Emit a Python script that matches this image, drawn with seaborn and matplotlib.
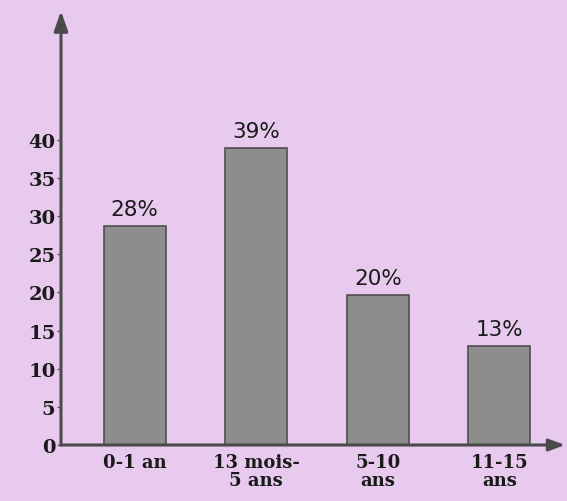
import matplotlib
matplotlib.use("Agg")
import matplotlib.pyplot as plt
import seaborn as sns
import pandas as pd

categories = ["0-1 an", "13 mois-\n5 ans", "5-10\nans", "11-15\nans"]
values = [28.7, 39.0, 19.7, 13.0]
bar_labels = ["28%", "39%", "20%", "13%"]
yticks = [0, 5, 10, 15, 20, 25, 30, 35, 40]

sns.set_theme(style="white")
bg = "#e8caee"
plt.rcParams["font.family"] = ["DejaVu Serif"]

fig = plt.figure(figsize=(5.67, 5.02), dpi=100, facecolor=bg)
ax = fig.add_axes([61/567, 56/502, 504/567, 434/502])
ax.set_facecolor(bg)

df = pd.DataFrame({"cat": categories, "val": values})
sns.barplot(data=df, x="cat", y="val", order=categories, color="#8d8d8d",
            saturation=1, edgecolor="#4f4f4f", linewidth=1.2, width=0.51, ax=ax)

ax.set_xlim(-0.607, 3.54)
ax.set_ylim(0, 56.9)
ax.set_yticks(yticks)
ax.set_yticklabels([str(t) for t in yticks], fontsize=14, fontweight="bold", color="#1a1a1a")
ax.set_xticks(range(len(categories)))
ax.set_xticklabels(categories, fontsize=13, fontweight="bold", color="#1a1a1a", linespacing=1.0)
ax.tick_params(axis="y", length=3, width=1, color="#555555", pad=1, left=True)
ax.tick_params(axis="x", length=0, pad=6)
ax.set_xlabel("")
ax.set_ylabel("")
for s in ax.spines.values():
    s.set_visible(False)

for i, (v, lab) in enumerate(zip(values, bar_labels)):
    ax.annotate(lab, (i, v), xytext=(0, 5), textcoords="offset points",
                ha="center", va="bottom", fontsize=15.5, family="DejaVu Sans",
                color="#1a1a1a")

ax.annotate("", xy=(0, 1.0), xytext=(0, 0), xycoords="axes fraction",
            arrowprops=dict(arrowstyle="-|>,head_length=1.0,head_width=0.35",
                            color="#4a4a4a", lw=2.2, shrinkA=0, shrinkB=0), clip_on=False)
ax.annotate("", xy=(1.0, 0), xytext=(0, 0), xycoords="axes fraction",
            arrowprops=dict(arrowstyle="-|>,head_length=0.8,head_width=0.3",
                            color="#4a4a4a", lw=2.2, shrinkA=0, shrinkB=0), clip_on=False)

fig.savefig("out.png", dpi=100, facecolor=bg)
